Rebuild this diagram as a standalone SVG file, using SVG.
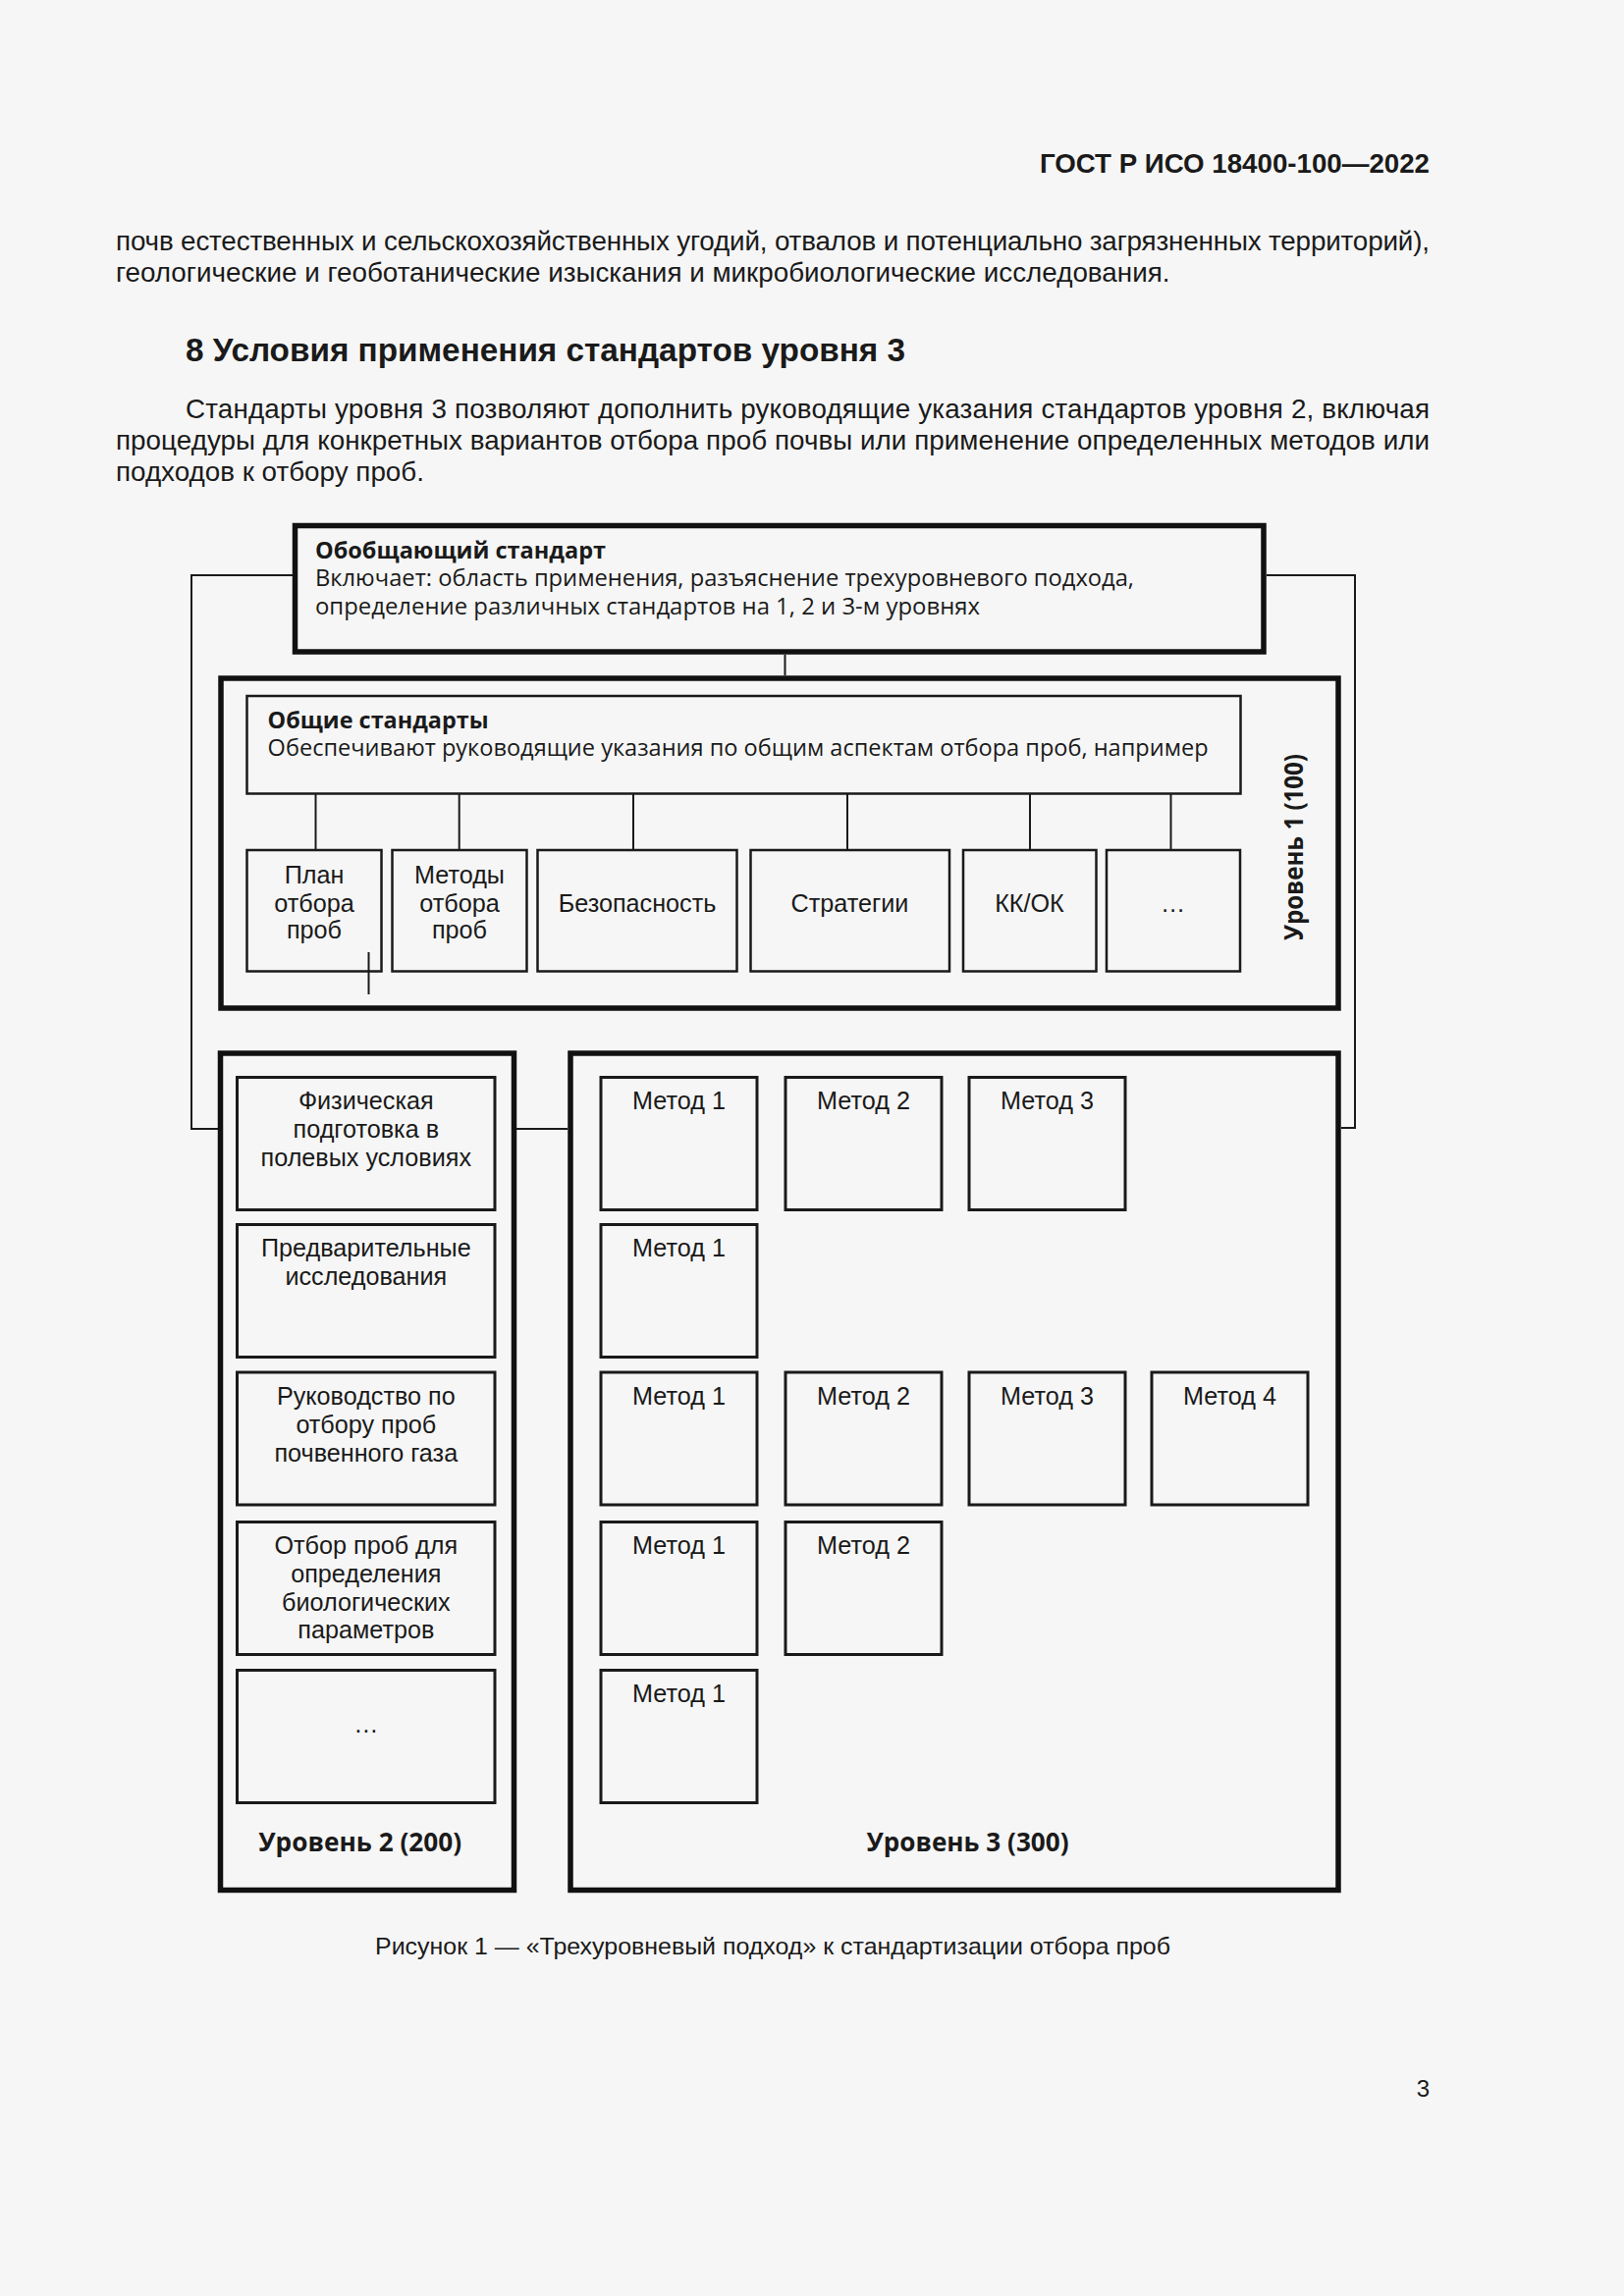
<svg xmlns="http://www.w3.org/2000/svg" width="1654" height="2339" viewBox="0 0 1654 2339">
<style>
.page{font-family:'Liberation Sans',Arial,sans-serif;fill:#1a1a1a}
.body{font-size:27.8px}
.hdr{font-size:27.7px;font-weight:bold}
.h2{font-size:33.3px;font-weight:bold}
.cap{font-size:24px}
.os{font-family:'Open Sans',sans-serif;fill:#1a1a1a;font-size:23.5px}
.osb{font-family:'Open Sans',sans-serif;fill:#1a1a1a;font-size:23.5px;font-weight:bold}
.lvl{font-family:'Open Sans',sans-serif;fill:#1a1a1a;font-size:26.5px;font-weight:bold}
.bx{font-family:'Liberation Sans',Arial,sans-serif;fill:#1a1a1a;font-size:25.2px;text-anchor:middle}
.thick{fill:none;stroke:#111;stroke-width:5.5}
.mid{fill:none;stroke:#1a1a1a;stroke-width:3}
.thin{fill:none;stroke:#1a1a1a;stroke-width:2.5}
.conn{fill:none;stroke:#1a1a1a;stroke-width:2}
</style>
<rect x="0" y="0" width="1654" height="2339" fill="#f6f6f6"/>

<g id="page-text">
<text class="page hdr" x="1456" y="176" text-anchor="end">ГОСТ Р ИСО 18400-100—2022</text>
<text class="page body" x="118" y="255" textLength="1338" lengthAdjust="spacing">почв естественных и сельскохозяйственных угодий, отвалов и потенциально загрязненных территорий),</text>
<text class="page body" x="118" y="287">геологические и геоботанические изыскания и микробиологические исследования.</text>
<text class="page h2" x="189" y="368">8 Условия применения стандартов уровня 3</text>
<text class="page body" x="189" y="426" textLength="1267" lengthAdjust="spacing">Стандарты уровня 3 позволяют дополнить руководящие указания стандартов уровня 2, включая</text>
<text class="page body" x="118" y="458" textLength="1338" lengthAdjust="spacing">процедуры для конкретных вариантов отбора проб почвы или применение определенных методов или</text>
<text class="page body" x="118" y="490">подходов к отбору проб.</text>
<text class="page cap" x="382" y="1991" textLength="810" lengthAdjust="spacingAndGlyphs">Рисунок 1 — «Трехуровневый подход» к стандартизации отбора проб</text>
<text class="page cap" x="1456" y="2136" text-anchor="end">3</text>
</g>

<g id="connectors">
<polyline class="conn" points="298,586 195,586 195,1150 222,1150"/>
<polyline class="conn" points="1290,586 1380,586 1380,1149 1366,1149"/>
<line class="conn" x1="799.5" y1="667" x2="799.5" y2="688"/>
<line class="conn" x1="526" y1="1150" x2="578" y2="1150"/>
<line class="conn" x1="321.5" y1="809" x2="321.5" y2="865"/>
<line class="conn" x1="467.7" y1="809" x2="467.7" y2="865"/>
<line class="conn" x1="645" y1="809" x2="645" y2="865"/>
<line class="conn" x1="863" y1="809" x2="863" y2="865"/>
<line class="conn" x1="1049" y1="809" x2="1049" y2="865"/>
<line class="conn" x1="1192.5" y1="809" x2="1192.5" y2="865"/>
<line class="conn" x1="375.5" y1="970" x2="375.5" y2="1013"/>
</g>

<g id="general-standard">
<rect class="thick" x="300.5" y="535.5" width="986.5" height="128.5"/>
<text class="osb" x="321" y="569">Обобщающий стандарт</text>
<text class="os" x="321" y="597" textLength="834" lengthAdjust="spacingAndGlyphs">Включает: область применения, разъяснение трехуровневого подхода,</text>
<text class="os" x="321" y="625.5" textLength="677" lengthAdjust="spacingAndGlyphs">определение различных стандартов на 1, 2 и 3-м уровнях</text>
</g>

<g id="level1">
<rect class="thick" x="225" y="691" width="1138" height="336" stroke-width="6"/>
<text class="lvl" transform="translate(1327,863) rotate(-90)" text-anchor="middle" font-size="25" textLength="190" lengthAdjust="spacingAndGlyphs">Уровень 1 (100)</text>
</g>

<g id="common-standards">
<rect class="thin" x="251.5" y="709" width="1012" height="99.5"/>
<text class="osb" x="272.6" y="741.7" textLength="225" lengthAdjust="spacingAndGlyphs">Общие стандарты</text>
<text class="os" x="272.6" y="770" textLength="958" lengthAdjust="spacingAndGlyphs">Обеспечивают руководящие указания по общим аспектам отбора проб, например</text>
</g>

<g id="l1-plan">
<rect class="thin" x="251.5" y="866" width="137" height="123.5"/>
<text class="bx" x="320" y="900">План</text>
<text class="bx" x="320" y="929">отбора</text>
<text class="bx" x="320" y="956">проб</text>
</g>
<g id="l1-methods">
<rect class="thin" x="399.5" y="866" width="137" height="123.5"/>
<text class="bx" x="468" y="900">Методы</text>
<text class="bx" x="468" y="929">отбора</text>
<text class="bx" x="468" y="956">проб</text>
</g>
<g id="l1-safety">
<rect class="thin" x="547.5" y="866" width="203" height="123.5"/>
<text class="bx" x="649" y="929">Безопасность</text>
</g>
<g id="l1-strategies">
<rect class="thin" x="764.5" y="866" width="202.5" height="123.5"/>
<text class="bx" x="865.5" y="929">Стратегии</text>
</g>
<g id="l1-qcqa">
<rect class="thin" x="981" y="866" width="135.5" height="123.5"/>
<text class="bx" x="1048.5" y="929">КК/ОК</text>
</g>
<g id="l1-more">
<rect class="thin" x="1127" y="866" width="136" height="123.5"/>
<text class="bx" x="1194.5" y="929">…</text>
</g>

<g id="level2">
<rect class="thick" x="224.5" y="1073" width="299" height="852.5"/>
<text class="lvl" x="366.7" y="1886" text-anchor="middle" textLength="207" lengthAdjust="spacingAndGlyphs">Уровень 2 (200)</text>
</g>
<g id="l2-field">
<rect class="mid" x="241.5" y="1097.5" width="262.5" height="135"/>
<text class="bx" x="372.8" y="1130">Физическая</text>
<text class="bx" x="372.8" y="1159">подготовка в</text>
<text class="bx" x="372.8" y="1188">полевых условиях</text>
</g>
<g id="l2-prelim">
<rect class="mid" x="241.5" y="1247.5" width="262.5" height="135"/>
<text class="bx" x="372.8" y="1280">Предварительные</text>
<text class="bx" x="372.8" y="1309">исследования</text>
</g>
<g id="l2-gas">
<rect class="mid" x="241.5" y="1398" width="262.5" height="135"/>
<text class="bx" x="372.8" y="1431">Руководство по</text>
<text class="bx" x="372.8" y="1460">отбору проб</text>
<text class="bx" x="372.8" y="1489">почвенного газа</text>
</g>
<g id="l2-bio">
<rect class="mid" x="241.5" y="1550.5" width="262.5" height="135"/>
<text class="bx" x="372.8" y="1583">Отбор проб для</text>
<text class="bx" x="372.8" y="1612">определения</text>
<text class="bx" x="372.8" y="1641">биологических</text>
<text class="bx" x="372.8" y="1669">параметров</text>
</g>
<g id="l2-more">
<rect class="mid" x="241.5" y="1701.5" width="262.5" height="135"/>
<text class="bx" x="372.8" y="1765">…</text>
</g>

<g id="level3">
<rect class="thick" x="581" y="1073" width="782" height="852.5"/>
<text class="lvl" x="985.5" y="1886" text-anchor="middle" textLength="206" lengthAdjust="spacingAndGlyphs">Уровень 3 (300)</text>
</g>
<g id="r1-m1"><rect class="mid" x="612" y="1097.5" width="159" height="135"/><text class="bx" x="691.5" y="1130">Метод 1</text></g>
<g id="r1-m2"><rect class="mid" x="800" y="1097.5" width="159" height="135"/><text class="bx" x="879.5" y="1130">Метод 2</text></g>
<g id="r1-m3"><rect class="mid" x="987" y="1097.5" width="159" height="135"/><text class="bx" x="1066.5" y="1130">Метод 3</text></g>
<g id="r2-m1"><rect class="mid" x="612" y="1247.5" width="159" height="135"/><text class="bx" x="691.5" y="1280">Метод 1</text></g>
<g id="r3-m1"><rect class="mid" x="612" y="1398" width="159" height="135"/><text class="bx" x="691.5" y="1431">Метод 1</text></g>
<g id="r3-m2"><rect class="mid" x="800" y="1398" width="159" height="135"/><text class="bx" x="879.5" y="1431">Метод 2</text></g>
<g id="r3-m3"><rect class="mid" x="987" y="1398" width="159" height="135"/><text class="bx" x="1066.5" y="1431">Метод 3</text></g>
<g id="r3-m4"><rect class="mid" x="1173" y="1398" width="159" height="135"/><text class="bx" x="1252.5" y="1431">Метод 4</text></g>
<g id="r4-m1"><rect class="mid" x="612" y="1550.5" width="159" height="135"/><text class="bx" x="691.5" y="1583">Метод 1</text></g>
<g id="r4-m2"><rect class="mid" x="800" y="1550.5" width="159" height="135"/><text class="bx" x="879.5" y="1583">Метод 2</text></g>
<g id="r5-m1"><rect class="mid" x="612" y="1701.5" width="159" height="135"/><text class="bx" x="691.5" y="1734">Метод 1</text></g>
</svg>
